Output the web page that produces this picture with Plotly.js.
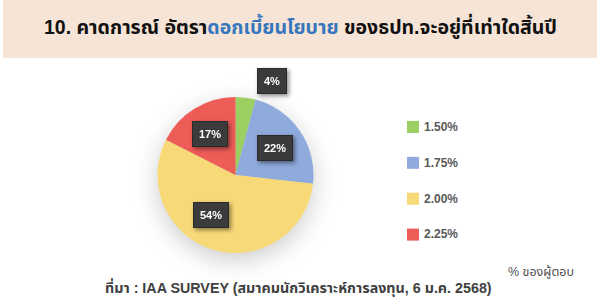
<!DOCTYPE html>
<html>
<head>
<meta charset="utf-8">
<script src="https://cdn.plot.ly/plotly-3.0.1.min.js"></script>
<style>
html,body{margin:0;padding:0;background:#fff;}
#chart{width:600px;height:302px;}
.pielayer{filter:drop-shadow(0px 7px 12px rgba(0,0,0,0.2));}
.annotation.lbl{filter:drop-shadow(2px 2px 2px rgba(0,0,0,0.45));}
</style>
</head>
<body>
<div id="chart"></div>
<script>
// ---- data ----
var rateLabels = ['1.50%', '1.75%', '2.00%', '2.25%'];
var shareValues = [4, 22, 54, 17];
var sliceColors = ['#9ccf62', '#8faadc', '#f8d978', '#ee5c57'];

var titleBlack1 = '10. คาดการณ์ อัตรา';
var titleBlue = 'ดอกเบี้ยนโยบาย';
var titleBlack2 = ' ของธปท.จะอยู่ที่เท่าใดสิ้นปี';
var sourceText = 'ที่มา : IAA SURVEY (สมาคมนักวิเคราะห์การลงทุน, 6 ม.ค. 2568)';
var unitText = '% ของผู้ตอบ';

// ---- layout geometry ----
var W = 600, H = 302;
var cx = 235.5, cy = 175, R = 78;
var FONT = '"Liberation Sans", Arial, "Noto Sans Thai", "Noto Sans", sans-serif';

var trace = {
  type: 'pie',
  labels: rateLabels.map(function (l) {
    return '<span style="font-size:12px;font-weight:bold;baseline-shift:6px">' + l + '</span>';
  }),
  values: shareValues,
  marker: {colors: sliceColors, line: {color: '#ffffff', width: 0}},
  sort: false,
  direction: 'clockwise',
  rotation: 0,
  textinfo: 'none',
  hoverinfo: 'label+value',
  domain: {x: [(cx - R) / W, (cx + R) / W], y: [(H - cy - R) / H, (H - cy + R) / H]}
};

// data label boxes, positioned from slice angles
var total = shareValues.reduce(function (a, b) { return a + b; }, 0);
var annotations = [];
var cum = 0;
var nudge = {2: [-11, -6]};
shareValues.forEach(function (v, i) {
  var mid = (cum + v / 2) / total * 2 * Math.PI;
  cum += v;
  var k = 0.62, ang = mid;
  if (v / total < 0.08) { k = 1.29; ang = mid + 14 * Math.PI / 180; }
  var px = cx + k * R * Math.sin(ang);
  var py = cy - k * R * Math.cos(ang);
  if (nudge[i]) { px += nudge[i][0]; py += nudge[i][1]; }
  annotations.push({
    xref: 'paper', yref: 'paper', x: px / W, y: 1 - py / H,
    xanchor: 'center', yanchor: 'middle', showarrow: false,
    text: '<b>' + v + '%</b>',
    font: {family: FONT, size: 11, color: '#ffffff'},
    bgcolor: '#3b3b3b', bordercolor: '#2a2a2a', borderwidth: 1, borderpad: 6
  });
});

annotations.push({
  xref: 'paper', yref: 'paper', x: 0.5, y: 1 - 26 / H, xanchor: 'center', yanchor: 'middle',
  showarrow: false,
  text: '<b>' + titleBlack1 + '<span style="color:#3576bd">' + titleBlue + '</span>' + titleBlack2 + '</b>',
  font: {family: FONT, size: 19.5, color: '#111111'}
});
annotations.push({
  xref: 'paper', yref: 'paper', x: 298 / W, y: 1 - 287 / H, xanchor: 'center', yanchor: 'middle',
  showarrow: false, text: '<b>' + sourceText + '</b>',
  font: {family: FONT, size: 14.3, color: '#404040'}
});
annotations.push({
  xref: 'paper', yref: 'paper', x: 576 / W, y: 1 - 272 / H, xanchor: 'right', yanchor: 'middle',
  showarrow: false, text: unitText,
  font: {family: FONT, size: 12.5, color: '#505050'}
});

var layout = {
  width: W, height: H,
  margin: {l: 0, r: 0, t: 0, b: 0},
  paper_bgcolor: '#ffffff',
  showlegend: true,
  legend: {
    x: 393 / W, y: 1 - 104 / H, xanchor: 'left', yanchor: 'top',
    font: {family: FONT, size: 25.3, color: '#595959'},
    bgcolor: 'rgba(0,0,0,0)', itemclick: false
  },
  shapes: [{
    type: 'rect', xref: 'paper', yref: 'paper', layer: 'below',
    x0: 3 / W, x1: 597 / W, y0: 1 - 58 / H, y1: 1,
    fillcolor: '#f6e4d6', line: {width: 0}
  }],
  annotations: annotations
};

Plotly.newPlot('chart', [trace], layout, {staticPlot: true}).then(function () {
  document.querySelectorAll('.annotation').forEach(function (g, i) {
    if (i < shareValues.length) g.classList.add('lbl');
  });
  document.querySelectorAll('.legendtext').forEach(function (t) {
    t.setAttribute('transform', 'translate(-9,0)');
  });
});
</script>
</body>
</html>
